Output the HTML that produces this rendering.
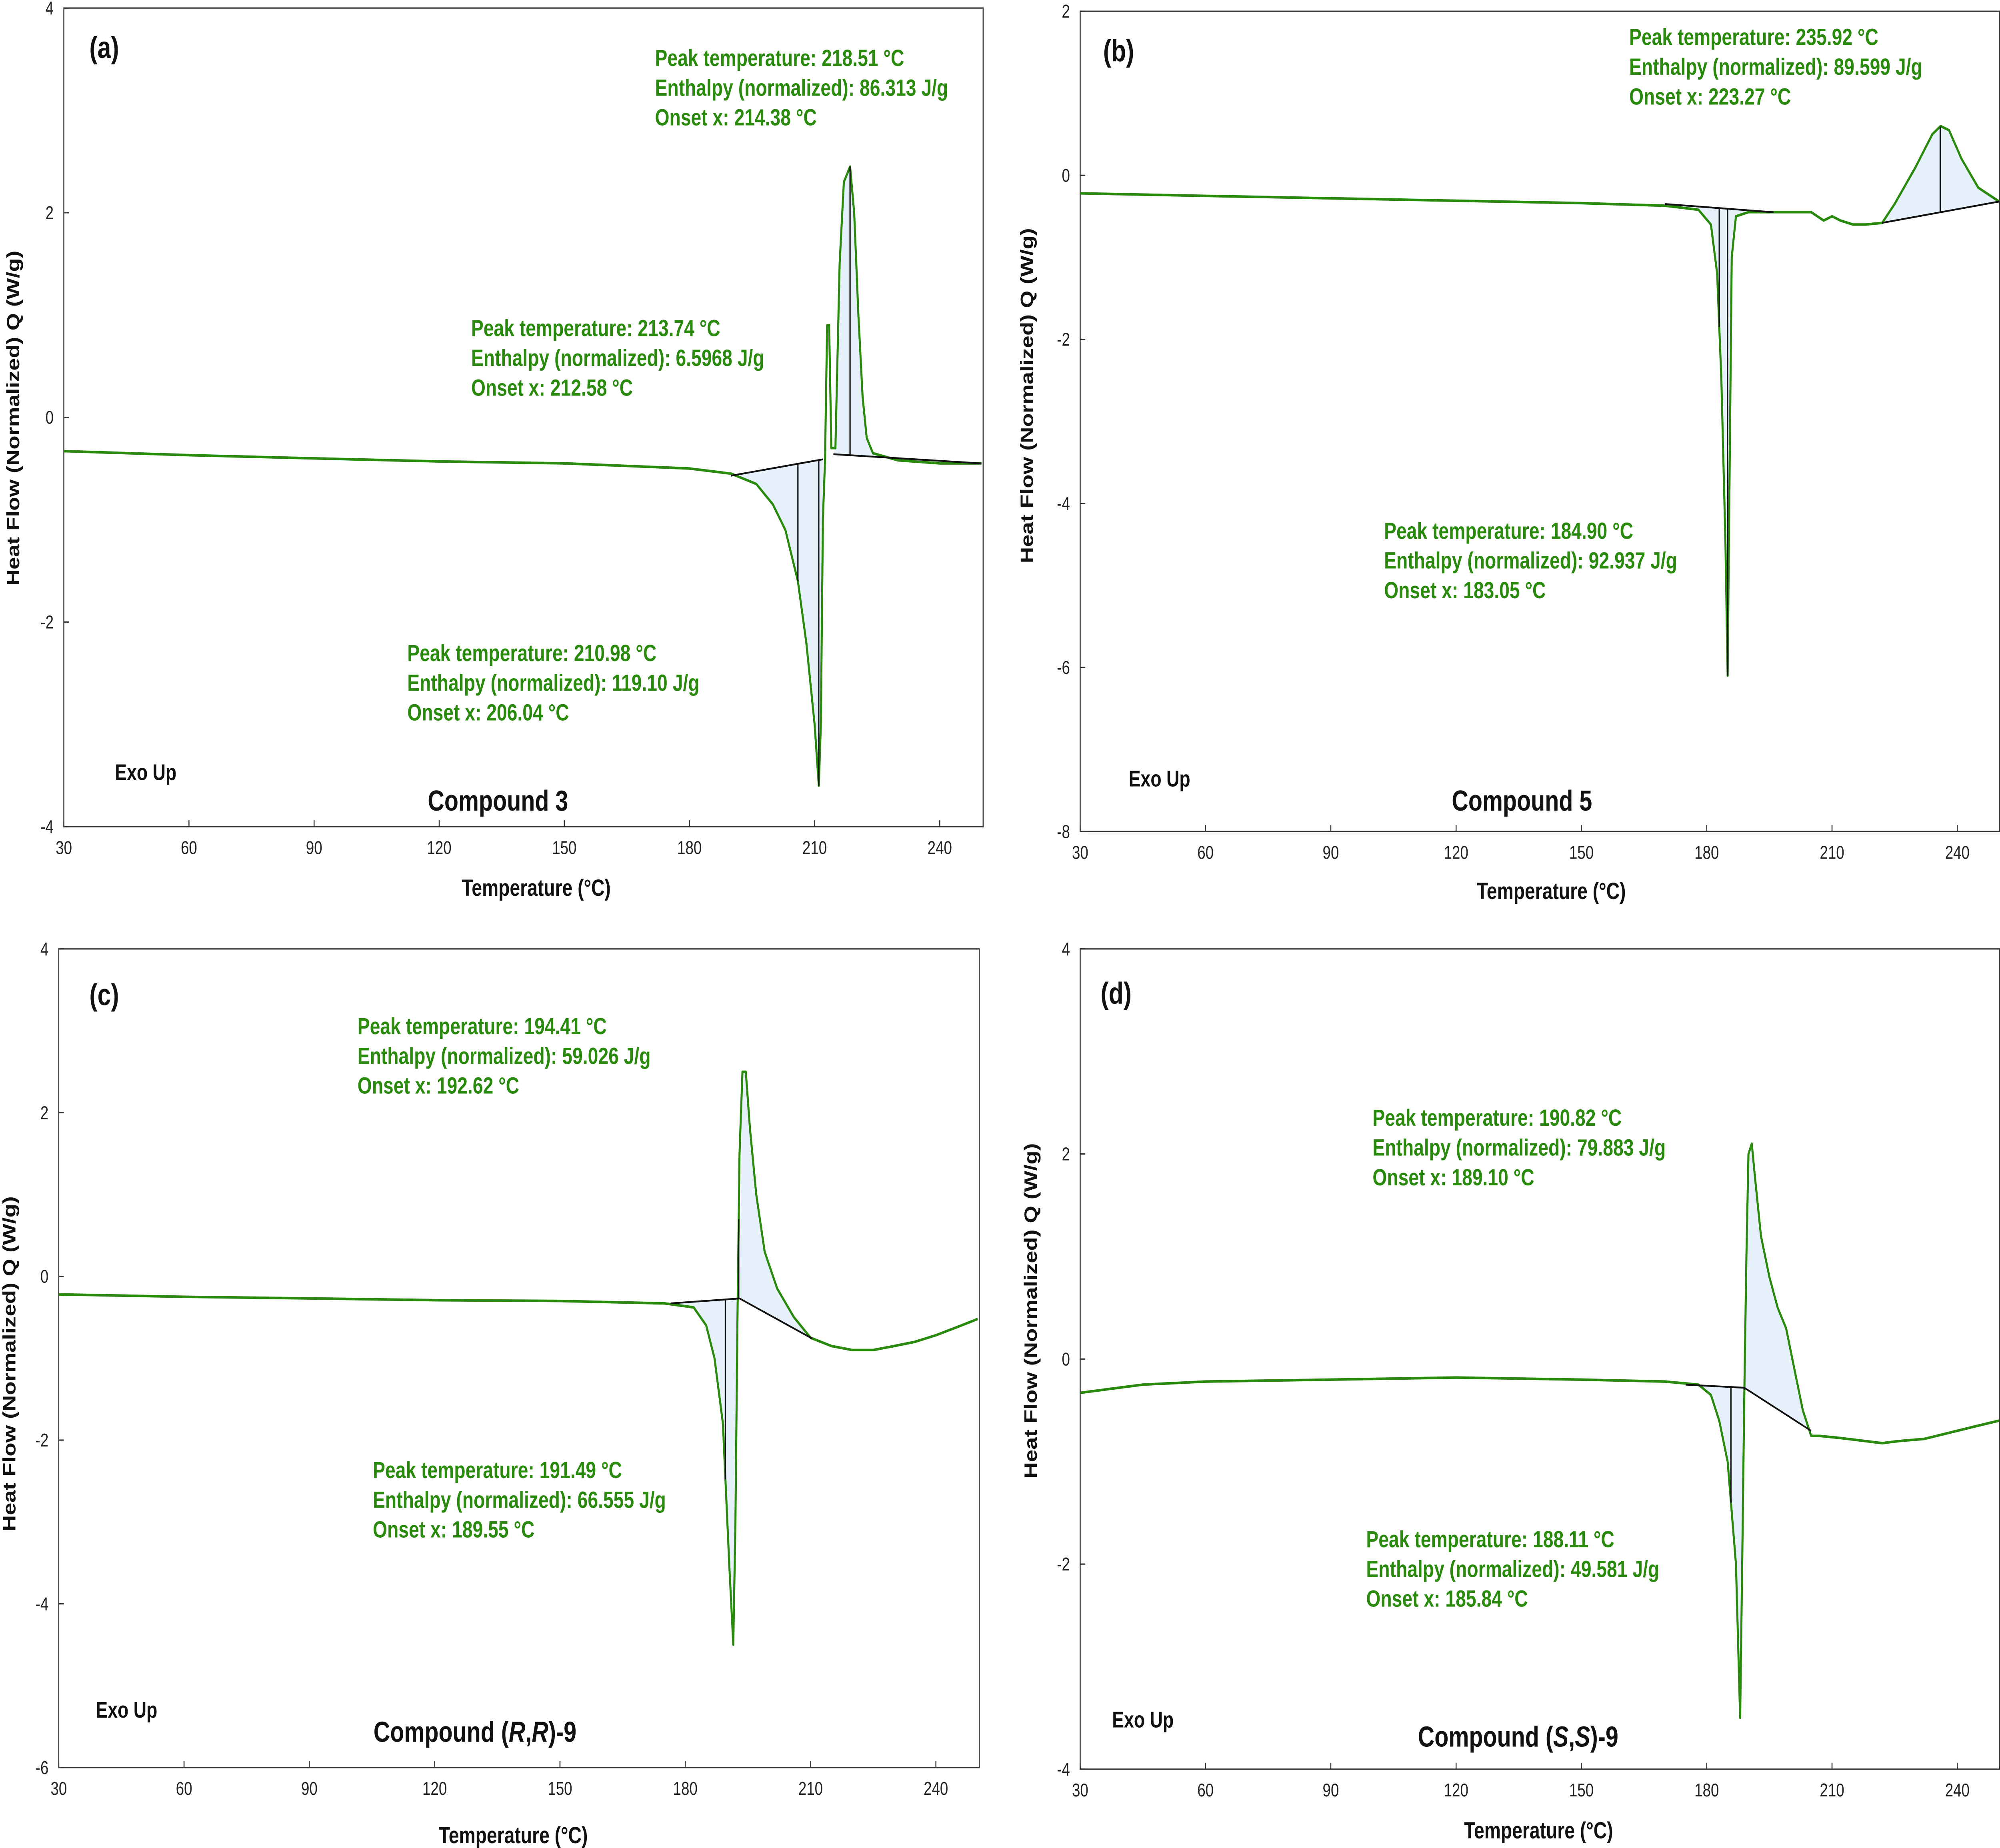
<!DOCTYPE html>
<html><head><meta charset="utf-8"><style>
html,body{margin:0;padding:0;background:#fff;width:5005px;height:4621px;overflow:hidden}
svg{display:block;position:absolute;left:0;top:0}
</style></head><body>
<svg id="fig" xmlns="http://www.w3.org/2000/svg" width="5005" height="4621">
<rect width="5005" height="4621" fill="#fff"/>
<g id="root" transform="scale(3.192,4.0217)" font-family="Liberation Sans, Arial, sans-serif"></g>
</svg>
<script>
// ---- Data: panel (a) Compound 3 ----
const aT=[30,60,90,120,150,180,190,196,200,203,206,208,210,211,211.5,212,212.5,213,213.5,214,215,216,217,218.5,219.5,220.5,221.5,222.5,224,230,240,250];
const aQ=[-0.33,-0.37,-0.4,-0.43,-0.45,-0.5,-0.55,-0.65,-0.85,-1.1,-1.6,-2.2,-3.0,-3.6,-3.0,-1.0,-0.4,0.9,0.9,-0.3,-0.3,1.5,2.3,2.45,2.0,1.0,0.2,-0.2,-0.35,-0.42,-0.45,-0.45];
const aBaseT=[[190,212],[214.5,250]];
const aBaseQ=[[-0.57,-0.41],[-0.36,-0.45]];
const aVert=[206,211,218.5];
// ---- panel (b) Compound 5 ----
const bT=[30,60,90,120,150,170,178,181,182.5,183.5,184.5,185,185.4,186,187,190,200,205,208,210,212,215,218,222,225,230,234,236,238,241,245,250];
const bQ=[-0.22,-0.25,-0.28,-0.31,-0.34,-0.37,-0.42,-0.6,-1.2,-2.5,-4.5,-6.1,-4.0,-1.0,-0.5,-0.45,-0.45,-0.45,-0.55,-0.5,-0.55,-0.6,-0.6,-0.58,-0.35,0.1,0.5,0.6,0.55,0.2,-0.15,-0.32];
const bBaseT=[[170,196],[222,250]];
const bBaseQ=[[-0.35,-0.45],[-0.58,-0.32]];
const bVert=[183,185,235.9];
// ---- panel (c) Compound (R,R)-9 ----
const cT=[30,60,90,120,150,175,182,185,187,189,190.5,191.5,192,192.5,193,193.7,194.5,195.5,197,199,202,206,210,215,220,225,230,235,240,245,250];
const cQ=[-0.22,-0.25,-0.27,-0.29,-0.3,-0.33,-0.38,-0.6,-1.0,-1.8,-3.5,-4.5,-3.0,-0.5,1.5,2.5,2.5,1.8,1.0,0.3,-0.15,-0.5,-0.75,-0.85,-0.9,-0.9,-0.85,-0.8,-0.72,-0.62,-0.52];
const cBaseT=[[176.5,193],[193,210.4]];
const cBaseQ=[[-0.33,-0.27],[-0.27,-0.76]];
const cVert=[189.6,192.8];
// ---- panel (d) Compound (S,S)-9 ----
const dT=[30,45,60,90,120,150,170,178,181,183,185,187,188,188.5,189,189.5,190,190.8,191.5,193,195,197,199,201,203,205,207,212,218,222,226,232,240,245,250];
const dQ=[-0.33,-0.25,-0.22,-0.2,-0.18,-0.2,-0.22,-0.25,-0.35,-0.6,-1.0,-2.0,-3.5,-2.0,-0.3,1.0,2.0,2.1,1.8,1.2,0.8,0.5,0.3,-0.1,-0.5,-0.75,-0.75,-0.77,-0.8,-0.82,-0.8,-0.78,-0.7,-0.65,-0.6];
const dBaseT=[[175,189],[189,205]];
const dBaseQ=[[-0.25,-0.28],[-0.28,-0.7]];
const dVert=[185.8,189];
const xTicks=[30,60,90,120,150,180,210,240];
const aYTicks=[4,2,0,-2,-4];
const bYTicks=[2,0,-2,-4,-6,-8];
const cYTicks=[4,2,0,-2,-4,-6];
const dYTicks=[4,2,0,-2,-4];

const NS='http://www.w3.org/2000/svg';
const root=document.getElementById('root');
function mk(tag,attrs,parent,text){const e=document.createElementNS(NS,tag);for(const k in attrs)e.setAttribute(k,attrs[k]);if(text!==undefined)e.textContent=text;(parent||root).appendChild(e);return e;}
const GREEN='#2a8a0e';

function interp(T,Q,t){for(let i=0;i<T.length-1;i++){if(t>=T[i]&&t<=T[i+1]){const f=(t-T[i])/(T[i+1]-T[i]||1);return Q[i]+f*(Q[i+1]-Q[i]);}}return Q[Q.length-1];}

function panel(cfg){
 const g=mk('g',{});
 
 
 const L=cfg.L,R=cfg.R,Tp=cfg.Tp,B=cfg.B,ymax=cfg.yt[0],ymin=cfg.yt[cfg.yt.length-1];
 const x0=cfg.x30,x240=cfg.x240;
 const xs=t=>x0+(t-30)*(x240-x0)/210;
 const ys=q=>Tp+(ymax-q)*(B-Tp)/(ymax-ymin);
 cfg.bT.forEach((bt,k)=>{
  const bq=cfg.bQ[k];let pts=[];
  pts.push([bt[0],bq[0]]);
  cfg.T.forEach((t,i)=>{if(t>bt[0]&&t<bt[1])pts.push([t,cfg.Q[i]]);});
  pts.push([bt[1],interp(cfg.T,cfg.Q,bt[1])]);
  pts.push([bt[1],bq[1]]);
  const p=mk('polygon',{points:pts.map(p=>xs(p[0]).toFixed(1)+','+ys(p[1]).toFixed(1)).join(' '),fill:'#e6f1fb',stroke:'none'},g);
  
  
 });
 const fr=mk('rect',{x:L,y:Tp,width:R-L,height:B-Tp,fill:'none',stroke:'#333','stroke-width':0.8},g);
 
 
 xTicks.forEach(t=>{
  mk('line',{x1:xs(t),x2:xs(t),y1:B,y2:B-4,stroke:'#333','stroke-width':0.8},g);
  const tx=mk('text',{x:xs(t),y:B+17,'font-size':11.5,'text-anchor':'middle',fill:'#222'},g,String(t));
  
  
 });
 cfg.yt.forEach(v=>{
  mk('line',{x1:L,x2:L+4,y1:ys(v),y2:ys(v),stroke:'#333','stroke-width':0.8},g);
  const tx=mk('text',{x:L-8,y:ys(v)+4,'font-size':11.5,'text-anchor':'end',fill:'#222'},g,String(v));
  
  
 });
 const c=mk('polyline',{points:cfg.T.map((t,i)=>xs(t).toFixed(1)+','+ys(cfg.Q[i]).toFixed(1)).join(' '),fill:'none',stroke:GREEN,'stroke-width':1.6,'stroke-linejoin':'round'},g);
 
 
 cfg.bT.forEach((bt,k)=>{
  const l=mk('line',{x1:xs(bt[0]),y1:ys(cfg.bQ[k][0]),x2:xs(bt[1]),y2:ys(cfg.bQ[k][1]),stroke:'#111','stroke-width':1.1},g);
  
  
 });
 cfg.V.forEach(t=>{
  let bq=null;cfg.bT.forEach((bt,k)=>{if(t>=bt[0]&&t<=bt[1]&&bq===null)bq=cfg.bQ[k][0]+(t-bt[0])/(bt[1]-bt[0])*(cfg.bQ[k][1]-cfg.bQ[k][0]);});
  if(bq===null)bq=interp(cfg.T,cfg.Q,t)-0.3;
  const l=mk('line',{x1:xs(t),y1:ys(bq),x2:xs(t),y2:ys(interp(cfg.T,cfg.Q,t)),stroke:'#111','stroke-width':1},g);
  
  
 });
 const pl=mk('text',{x:cfg.lbl[0],y:cfg.lbl[1],'font-size':19,'font-weight':'bold',fill:'#111'},g,cfg.letter);
 
 
 const ex=mk('text',{x:cfg.exo[0],y:cfg.exo[1],'font-size':14,'font-weight':'bold',fill:'#111'},g,'Exo Up');
 
 
 const ti=mk('text',{x:cfg.title[0],y:cfg.title[1],'font-size':18,'font-weight':'bold',fill:'#111','text-anchor':'middle'},g);
 
 
 ti.innerHTML=cfg.titleHTML;
 const xl=mk('text',{x:cfg.xl[0],y:cfg.xl[1],'font-size':14.5,'font-weight':'bold',fill:'#111','text-anchor':'middle'},g,'Temperature  (°C)');
 
 
 const yl=mk('text',{x:0,y:0,'font-size':14,'font-weight':'bold',fill:'#111','text-anchor':'middle',transform:`translate(${cfg.yl[0]},${cfg.yl[1]}) rotate(-90)`},g,'Heat Flow (Normalized) Q (W/g)');
 
 
 cfg.ann.forEach(a=>{
  const t=mk('text',{x:a[0],y:a[1],'font-size':14.5,'font-weight':'bold',fill:GREEN},g);
  
  
  [a[2],a[3],a[4]].forEach((s,i)=>{mk('tspan',{x:a[0],dy:i===0?0:18.5},t,s);});
 });
}

panel({name:'panel-a',L:50,R:770,Tp:5,B:514,x30:50,x240:736,yt:aYTicks,T:aT,Q:aQ,bT:aBaseT,bQ:aBaseQ,V:aVert,
 letter:'(a)',lbl:[70,36],exo:[90,485],title:[390,504],titleHTML:'Compound 3',xl:[420,557],yl:[15,260],
 ann:[[513,41,'Peak temperature: 218.51 °C','Enthalpy (normalized): 86.313 J/g','Onset x: 214.38 °C'],
      [369,209,'Peak temperature: 213.74 °C','Enthalpy (normalized): 6.5968 J/g','Onset x: 212.58 °C'],
      [319,411,'Peak temperature: 210.98 °C','Enthalpy (normalized): 119.10 J/g','Onset x: 206.04 °C']]});
panel({name:'panel-b',L:846,R:1566,Tp:7,B:517,x30:846,x240:1533,yt:bYTicks,T:bT,Q:bQ,bT:bBaseT,bQ:bBaseQ,V:bVert,
 letter:'(b)',lbl:[864,38],exo:[884,489],title:[1192,504],titleHTML:'Compound 5',xl:[1215,559],yl:[809,246],
 ann:[[1276,28,'Peak temperature: 235.92 °C','Enthalpy (normalized): 89.599 J/g','Onset x: 223.27 °C'],
      [1084,335,'Peak temperature: 184.90 °C','Enthalpy (normalized): 92.937 J/g','Onset x: 183.05 °C']]});
panel({name:'panel-c',L:46,R:767,Tp:590,B:1099,x30:46,x240:733,yt:cYTicks,T:cT,Q:cQ,bT:cBaseT,bQ:cBaseQ,V:cVert,
 letter:'(c)',lbl:[70,625],exo:[75,1068],title:[372,1083],titleHTML:'Compound (<tspan font-style="italic">R</tspan>,<tspan font-style="italic">R</tspan>)-9',xl:[402,1146],yl:[12,848],
 ann:[[280,643,'Peak temperature: 194.41 °C','Enthalpy (normalized): 59.026 J/g','Onset x: 192.62 °C'],
      [292,919,'Peak temperature: 191.49 °C','Enthalpy (normalized): 66.555 J/g','Onset x: 189.55 °C']]});
panel({name:'panel-d',L:846,R:1566,Tp:590,B:1100,x30:846,x240:1533,yt:dYTicks,T:dT,Q:dQ,bT:dBaseT,bQ:dBaseQ,V:dVert,
 letter:'(d)',lbl:[862,624],exo:[871,1074],title:[1189,1086],titleHTML:'Compound (<tspan font-style="italic">S</tspan>,<tspan font-style="italic">S</tspan>)-9',xl:[1205,1143],yl:[812,815],
 ann:[[1075,700,'Peak temperature: 190.82 °C','Enthalpy (normalized): 79.883 J/g','Onset x: 189.10 °C'],
      [1070,962,'Peak temperature: 188.11 °C','Enthalpy (normalized): 49.581 J/g','Onset x: 185.84 °C']]});
</script>
</body></html>
